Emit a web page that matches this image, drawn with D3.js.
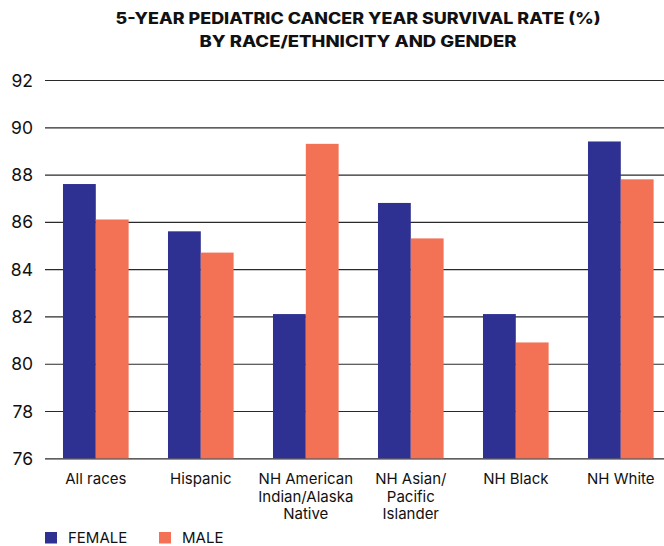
<!DOCTYPE html>
<html>
<head>
<meta charset="utf-8">
<script src="https://cdn.jsdelivr.net/npm/d3@7"></script>
<style>
  html, body { margin: 0; padding: 0; background: #fff; }
  svg { display: block; }
  text { font-family: Inter, "Liberation Sans", sans-serif; fill: #111; }
</style>
</head>
<body>
<svg id="chart" width="664" height="546"></svg>
<script>
// Survival rates (%) by group and gender
const categories = [
  ["All races"],
  ["Hispanic"],
  ["NH American", "Indian/Alaska", "Native"],
  ["NH Asian/", "Pacific", "Islander"],
  ["NH Black"],
  ["NH White"]
];
const female = [87.6, 85.6, 82.1, 86.8, 82.1, 89.4];
const male   = [86.1, 84.7, 89.3, 85.3, 80.9, 87.8];
const yTicks = [76, 78, 80, 82, 84, 86, 88, 90, 92];
const seriesNames = ["FEMALE", "MALE"];
const titleLines = [
  "5-YEAR PEDIATRIC CANCER YEAR SURVIVAL RATE (%)",
  "BY RACE/ETHNICITY AND GENDER"
];

const colors = { FEMALE: "#2E3192", MALE: "#F37155" };

const svg = d3.select("#chart");

const y = d3.scaleLinear().domain([76, 92]).range([458.3, 80]);
const x = d3.scaleBand()
  .domain(d3.range(categories.length))
  .range([43.3, 673.3])
  .paddingInner(0.375)
  .paddingOuter(0.1875);
const xs = d3.scaleBand().domain(seriesNames).range([0, x.bandwidth()]);

// Title
svg.append("g").selectAll("text")
  .data(titleLines)
  .join("text")
  .attr("x", 358)
  .attr("y", (d, i) => 24 + i * 23)
  .attr("text-anchor", "middle")
  .attr("font-size", 15.5)
  .attr("font-weight", 800)
  .attr("textLength", (d, i) => i === 0 ? 485 : 317)
  .attr("lengthAdjust", "spacingAndGlyphs")
  .text(d => d);

// Horizontal grid lines with value labels
const yAxis = d3.axisLeft(y)
  .tickValues(yTicks)
  .tickSize(-(664 - 45))
  .tickPadding(12)
  .tickFormat(d3.format("d"));

const gy = svg.append("g")
  .attr("transform", "translate(45,0)")
  .call(yAxis);
gy.select(".domain").remove();
gy.selectAll(".tick line")
  .attr("stroke", "#2a2a2a")
  .attr("stroke-width", 1.2);
gy.selectAll(".tick text")
  .attr("font-family", "Inter, 'Liberation Sans', sans-serif")
  .attr("font-size", 17.5)
  .attr("fill", "#111")
  .attr("x", -12)
  .attr("dy", "0.35em");

// Bars
const rows = categories.map((c, i) => ({ i, values: [
  { key: "FEMALE", v: female[i] },
  { key: "MALE", v: male[i] }
]}));

svg.append("g").selectAll("g")
  .data(rows)
  .join("g")
  .attr("transform", d => `translate(${x(d.i)},0)`)
  .selectAll("rect")
  .data(d => d.values)
  .join("rect")
  .attr("x", d => xs(d.key))
  .attr("width", xs.bandwidth())
  .attr("y", d => y(d.v))
  .attr("height", d => y(76) - y(d.v))
  .attr("fill", d => colors[d.key]);

// Category labels
svg.append("g").selectAll("text")
  .data(categories)
  .join("text")
  .attr("text-anchor", "middle")
  .attr("font-size", 15)
  .attr("fill", "#111")
  .attr("transform", (d, i) => `translate(${x(i) + x.bandwidth() / 2},484)`)
  .selectAll("tspan")
  .data(d => d)
  .join("tspan")
  .attr("x", 0)
  .attr("y", (d, i) => i * 17.6)
  .text(d => d);

// Legend
const legend = svg.append("g").selectAll("g")
  .data(seriesNames)
  .join("g")
  .attr("transform", (d, i) => `translate(${45 + i * 114},532)`);
legend.append("rect")
  .attr("width", 12)
  .attr("height", 11.5)
  .attr("fill", d => colors[d]);
legend.append("text")
  .attr("x", 23)
  .attr("y", 11.3)
  .attr("font-size", 15)
  .attr("fill", "#111")
  .text(d => d);
</script>
</body>
</html>
